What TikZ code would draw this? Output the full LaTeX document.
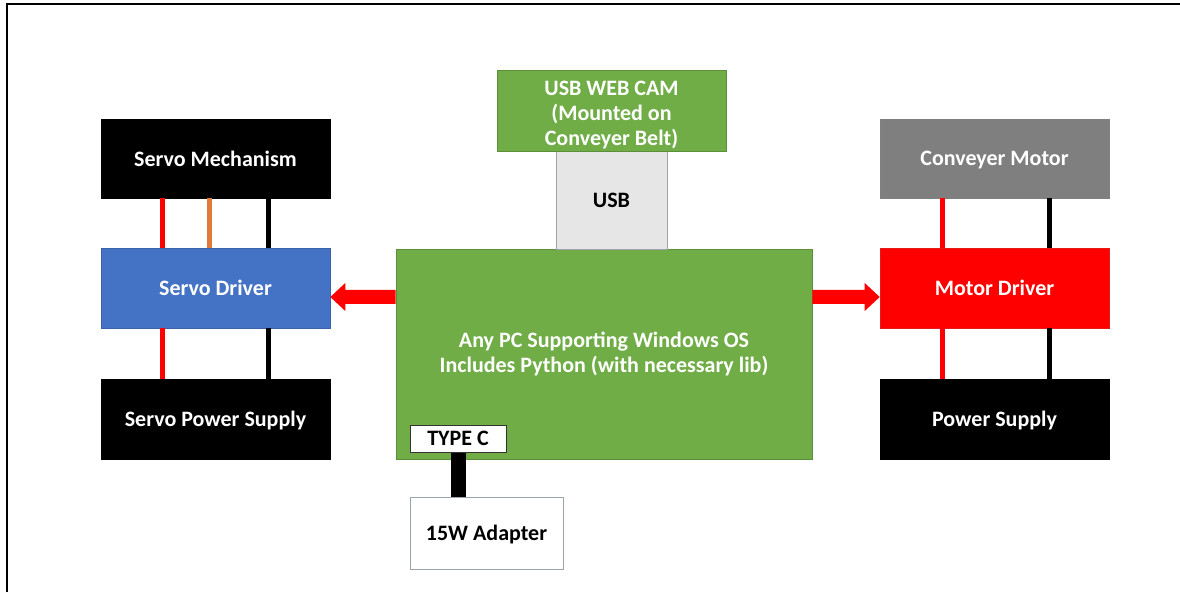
\documentclass[tikz,border=0pt]{standalone}
\usepackage{fontspec}
\setmainfont{Carlito}
\usetikzlibrary{calc}
\definecolor{pcgreen}{HTML}{70AD47}
\definecolor{pcgreenline}{HTML}{5B8F3A}
\definecolor{drvblue}{HTML}{4472C4}
\definecolor{drvblueline}{HTML}{3A62A8}
\definecolor{motgray}{HTML}{7F7F7F}
\definecolor{usbgray}{HTML}{E7E6E6}
\definecolor{edgegray}{HTML}{9AA3AE}
\definecolor{wireorange}{HTML}{E07B39}
\tikzset{
  blk/.style={draw, line width=0.6pt, align=center, inner sep=0pt,
    font=\fontsize{22}{24.5}\selectfont\bfseries, text=white},
  oneline/.style={blk, text depth=0pt},
  sidebox/.style={oneline, minimum width=229pt, minimum height=80pt},
  wire/.style={line width=5pt},
  bigarrow/.style={fill=red},
}
\begin{document}
\begin{tikzpicture}[x=1pt,y=1pt]
\useasboundingbox (0,0) rectangle (1180,592);
\fill[white] (0,0) rectangle (1180,592);
% outer frame
\draw[line width=2pt] (6.5,0) -- (6.5,587.5) -- (1180,587.5);

% servo side
\node[sidebox, fill=black, draw=black, minimum height=79pt] (sm) at (215.5,433.5) {Servo Mechanism};
\node[sidebox, fill=drvblue, draw=drvblueline] (sd) at (215.5,304) {Servo Driver};
\node[sidebox, fill=black, draw=black] (sp) at (215.5,173) {Servo Power Supply};

% motor side
\node[sidebox, fill=motgray, draw=gray, minimum height=79pt] (cm) at (994.5,433.5) {Conveyer Motor};
\node[sidebox, fill=red, draw=red!80!gray] (md) at (994.5,304) {Motor Driver};
\node[sidebox, fill=black, draw=black] (ps) at (994.5,173) {Power Supply};

% PC and peripherals
\node[blk, fill=pcgreen, draw=pcgreenline, minimum width=416pt, minimum height=210pt] (pc) at (604,238)
  {Any PC Supporting Windows OS\\Includes Python (with necessary lib)};
\node[oneline, fill=usbgray, draw=edgegray, text=black, minimum width=111pt, minimum height=98pt] (usb) at (611.5,392) {USB};
\node[blk, fill=pcgreen, draw=pcgreenline, minimum width=229pt, minimum height=81pt,
  text depth=0pt, font=\fontsize{22}{25}\selectfont\bfseries] (cam) at (611.5,481.5)
  {\rule{0pt}{20pt}USB WEB CAM\\(Mounted on\\Conveyer Belt)};
\node[oneline, fill=white, draw=black!80, line width=1pt, text=black, minimum width=96pt, minimum height=27pt] (tc) at (458,153.5) {TYPE C};
\node[oneline, fill=white, draw=edgegray, text=black, minimum width=153pt, minimum height=72pt] (ad) at (486.5,59) {15W Adapter};

% power cable from adapter to the type C port
\draw[line width=15pt] (tc.south) -- (tc.south |- ad.north);

% servo wiring
\draw[wire, red] ([xshift=62pt]sm.south west) -- ([xshift=62pt]sd.north west);
\draw[wire, wireorange] ([xshift=109pt]sm.south west) -- ([xshift=109pt]sd.north west);
\draw[wire, black] ([xshift=168pt]sm.south west) -- ([xshift=168pt]sd.north west);
\draw[wire, red] ([xshift=62pt]sd.south west) -- ([xshift=62pt]sp.north west);
\draw[wire, black] ([xshift=168pt]sd.south west) -- ([xshift=168pt]sp.north west);

% motor wiring
\draw[wire, red] ([xshift=63pt]cm.south west) -- ([xshift=63pt]md.north west);
\draw[wire, black] ([xshift=170pt]cm.south west) -- ([xshift=170pt]md.north west);
\draw[wire, red] ([xshift=63pt]md.south west) -- ([xshift=63pt]ps.north west);
\draw[wire, black] ([xshift=170pt]md.south west) -- ([xshift=170pt]ps.north west);

% control arrows from the PC to both drivers
\coordinate (lt) at ([yshift=-9pt]sd.east);
\coordinate (ls) at (pc.west |- lt);
\fill[bigarrow] (lt) -- ++(15,14) -- ++(0,-7) -- ($(ls)+(0,7)$) -- ($(ls)+(0,-7)$)
  -- ($(lt)+(15,-7)$) -- ++(0,-7) -- cycle;
\coordinate (rt) at ([yshift=-9pt]md.west);
\coordinate (rs) at (pc.east |- rt);
\fill[bigarrow] (rt) -- ++(-15,14) -- ++(0,-7) -- ($(rs)+(0,7)$) -- ($(rs)+(0,-7)$)
  -- ($(rt)+(-15,-7)$) -- ++(0,-7) -- cycle;
\end{tikzpicture}
\end{document}
